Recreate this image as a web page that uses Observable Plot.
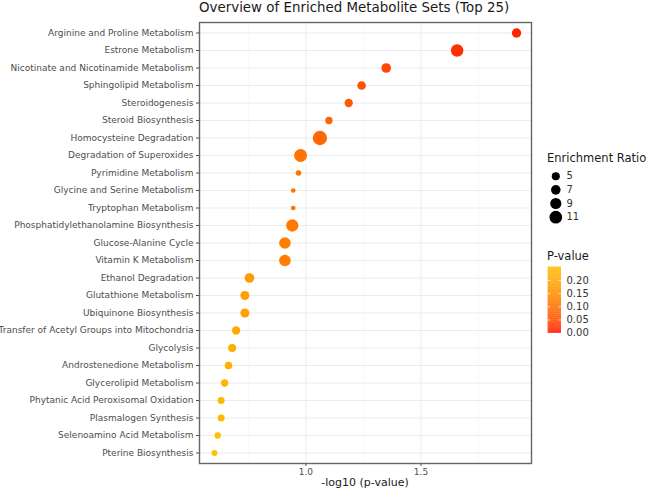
<!DOCTYPE html>
<html>
<head>
<meta charset="utf-8">
<script src="https://cdn.jsdelivr.net/npm/d3@7"></script>
<script src="https://cdn.jsdelivr.net/npm/@observablehq/plot@0.6"></script>
<style>
  body { margin: 0; background: #fff; font-family: "DejaVu Sans", sans-serif; }
  #root { position: relative; width: 649px; height: 492px; overflow: hidden; background: #fff; }
  .abs { position: absolute; white-space: nowrap; }
</style>
</head>
<body>
<div id="root"></div>
<script>
// ---- data (top to bottom) ----
const metaboliteSets = [
  "Arginine and Proline Metabolism",
  "Estrone Metabolism",
  "Nicotinate and Nicotinamide Metabolism",
  "Sphingolipid Metabolism",
  "Steroidogenesis",
  "Steroid Biosynthesis",
  "Homocysteine Degradation",
  "Degradation of Superoxides",
  "Pyrimidine Metabolism",
  "Glycine and Serine Metabolism",
  "Tryptophan Metabolism",
  "Phosphatidylethanolamine Biosynthesis",
  "Glucose-Alanine Cycle",
  "Vitamin K Metabolism",
  "Ethanol Degradation",
  "Glutathione Metabolism",
  "Ubiquinone Biosynthesis",
  "Transfer of Acetyl Groups into Mitochondria",
  "Glycolysis",
  "Androstenedione Metabolism",
  "Glycerolipid Metabolism",
  "Phytanic Acid Peroxisomal Oxidation",
  "Plasmalogen Synthesis",
  "Selenoamino Acid Metabolism",
  "Pterine Biosynthesis"
];
const negLog10P = [
  1.915, 1.657, 1.349, 1.242, 1.186, 1.100, 1.061, 0.977, 0.968, 0.945,
  0.945, 0.941, 0.909, 0.909, 0.755, 0.735, 0.735, 0.697, 0.680, 0.664,
  0.647, 0.632, 0.632, 0.617, 0.603
];
const enrichmentRatio = [
  6.6, 10.8, 7.0, 5.7, 5.3, 4.0, 13.2, 11.4, 1.8, 0.6,
  0.6, 10.5, 9.6, 9.6, 7.0, 6.2, 6.2, 5.3, 4.9, 4.4,
  4.0, 3.6, 3.6, 2.7, 2.3
];
const xTicks = [1.0, 1.5];
const xMinor = [0.75, 1.25, 1.75];
const sizeBreaks = [5, 7, 9, 11];
const pBreaks = [0.00, 0.05, 0.10, 0.15, 0.20];

const data = metaboliteSets.map((name, i) => ({
  name,
  x: negLog10P[i],
  er: enrichmentRatio[i],
  p: Math.pow(10, -negLog10P[i])
}));

const colorOpts = {type: "linear", domain: [0, 0.25], range: ["#FF0000", "#FFC000"], interpolate: "lab"};
const rOpts = {type: "linear", domain: [0, 13], range: [2.1, 7.1]};
const font = "DejaVu Sans";
const root = document.getElementById("root");

// ---- main plot ----
const main = Plot.plot({
  width: 540,
  height: 492,
  marginTop: 22,
  marginBottom: 29,
  marginLeft: 199,
  marginRight: 9,
  style: {fontFamily: font, fontSize: "9px", color: "#4d4d4d", background: "transparent"},
  x: {domain: [0.538, 1.98], ticks: xTicks, tickFormat: d3.format(".1f"), label: null, tickSize: 3, tickPadding: 2},
  y: {type: "point", domain: metaboliteSets, padding: 0.6, round: false, label: null, tickSize: 3, tickPadding: 3},
  color: colorOpts,
  r: rOpts,
  marks: [
    Plot.ruleX(xMinor, {stroke: "#f2f2f2", strokeWidth: 0.6}),
    Plot.ruleX(xTicks, {stroke: "#ebebeb", strokeWidth: 1}),
    Plot.ruleY(metaboliteSets, {stroke: "#ebebeb", strokeWidth: 1}),
    Plot.dot(data, {x: "x", y: "name", r: "er", fill: "p"}),
    Plot.frame({stroke: "#666666", strokeWidth: 1.4})
  ]
});
main.classList.add("abs");
main.style.left = "0px";
main.style.top = "0px";
root.appendChild(main);

// ---- titles ----
function addText(txt, css) {
  const d = document.createElement("div");
  d.className = "abs";
  d.textContent = txt;
  Object.assign(d.style, css);
  root.appendChild(d);
  return d;
}
addText("Overview of Enriched Metabolite Sets (Top 25)", {left: "199px", top: "0px", fontSize: "13.4px", color: "#1a1a1a", fontFamily: font});
addText("-log10 (p-value)", {left: "365px", top: "476px", fontSize: "11px", color: "#1a1a1a", fontFamily: font, transform: "translateX(-50%)"});
addText("Enrichment Ratio", {left: "547px", top: "151px", fontSize: "11.5px", color: "#1a1a1a", fontFamily: font});
addText("P-value", {left: "547px", top: "249px", fontSize: "11.5px", color: "#1a1a1a", fontFamily: font});

// ---- size legend ----
const sizeLegend = Plot.plot({
  width: 100,
  height: 70,
  margin: 0,
  style: {fontFamily: font, fontSize: "10px", color: "#333", background: "transparent"},
  x: {domain: [0, 100], range: [0, 100], axis: null},
  y: {type: "point", domain: sizeBreaks, range: [10.7, 51.7], padding: 0, round: false, axis: null},
  r: rOpts,
  marks: [
    Plot.dot(sizeBreaks, {x: () => 15.3, y: d => d, r: d => d, fill: "black"}),
    Plot.text(sizeBreaks, {x: () => 26, y: d => d, text: d => String(d), textAnchor: "start", fill: "#333"})
  ]
});
sizeLegend.classList.add("abs");
sizeLegend.style.left = "540px";
sizeLegend.style.top = "165px";
root.appendChild(sizeLegend);

// ---- colour bar ----
const step = 0.0025;
const steps = d3.range(0, 0.25, step);
const colorBar = Plot.plot({
  width: 100,
  height: 80,
  marginTop: 6.7,
  marginBottom: 7.3,
  marginLeft: 7.7,
  marginRight: 79,
  style: {fontFamily: font, fontSize: "10px", color: "#333", background: "transparent"},
  x: {domain: [0, 1], axis: null},
  y: {domain: [0, 0.25], axis: "right", ticks: pBreaks, tickFormat: d3.format(".2f"), tickSize: 0, tickPadding: 5, label: null},
  color: colorOpts,
  marks: [
    Plot.rect(steps, {x1: () => 0, x2: () => 1, y1: d => d, y2: d => d + step + 0.0005, fill: d => d + step / 2}),
    Plot.ruleY(pBreaks.slice(1), {x1: () => 0, x2: () => 0.2, stroke: "white", strokeWidth: 0.6}),
    Plot.ruleY(pBreaks.slice(1), {x1: () => 0.8, x2: () => 1, stroke: "white", strokeWidth: 0.6})
  ]
});
colorBar.classList.add("abs");
colorBar.style.left = "540px";
colorBar.style.top = "260px";
root.appendChild(colorBar);
</script>
</body>
</html>
